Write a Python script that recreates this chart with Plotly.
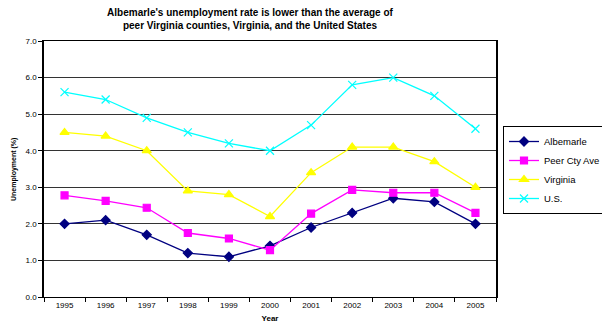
import plotly.graph_objects as go

years = ["1995", "1996", "1997", "1998", "1999", "2000", "2001", "2002", "2003", "2004", "2005"]
albemarle = [2.0, 2.1, 1.7, 1.2, 1.1, 1.4, 1.9, 2.3, 2.7, 2.6, 2.0]
peer_cty_ave = [2.78, 2.63, 2.44, 1.75, 1.6, 1.28, 2.28, 2.93, 2.85, 2.85, 2.3]
virginia = [4.5, 4.4, 4.0, 2.9, 2.8, 2.2, 3.4, 4.1, 4.1, 3.7, 3.0]
us = [5.6, 5.4, 4.9, 4.5, 4.2, 4.0, 4.7, 5.8, 6.0, 5.5, 4.6]
y_ticks = [0, 1, 2, 3, 4, 5, 6, 7]

series = [
    ("Albemarle", albemarle, "#000080", "diamond", 7),
    ("Peer Cty Ave", peer_cty_ave, "#FF00FF", "square", 7),
    ("Virginia", virginia, "#FFFF00", "triangle-up", 8),
    ("U.S.", us, "#00FFFF", "x-thin-open", 8),
]

fig = go.Figure()
for name, vals, color, sym, size in series:
    fig.add_trace(go.Scatter(
        x=years, y=vals, name=name, mode="lines+markers",
        line=dict(color=color, width=1.3),
        marker=dict(symbol=sym, size=size, color=color,
                    line=dict(color=color, width=1.2)),
    ))

font_family = "Liberation Sans, Arial, sans-serif"
fig.update_layout(
    width=602, height=324,
    margin=dict(l=44, r=106, t=41, b=27, autoexpand=False),
    paper_bgcolor="white", plot_bgcolor="white",
    font=dict(family=font_family, size=8, color="black"),
    showlegend=True,
    title=dict(
        text="<b>Albemarle's unemployment rate is lower than the average of<br>peer Virginia counties, Virginia, and the United States</b>",
        x=250 / 602, xanchor="center", y=1 - 16 / 324, yanchor="middle",
        font=dict(size=10, family=font_family, color="black"),
    ),
    legend=dict(
        x=1 + 7 / 452, xanchor="left", y=(297 - 126) / 256, yanchor="top",
        bordercolor="black", borderwidth=1, bgcolor="white",
        font=dict(size=9.5, family=font_family),
        tracegroupgap=0, itemwidth=30,
    ),
    xaxis=dict(
        type="category", range=[-0.5, 10.5], automargin=False,
        tickson="boundaries", ticks="outside", ticklen=4, tickcolor="black",
        showline=True, linecolor="black", linewidth=1, mirror=True,
        showgrid=False,
        title=dict(text="<b>Year</b>", font=dict(size=8), standoff=6),
        tickfont=dict(size=8),
    ),
    yaxis=dict(
        range=[0, 7], tickvals=y_ticks, tickformat=".1f", automargin=False,
        ticks="outside", ticklen=4, tickcolor="black",
        showline=True, linecolor="black", linewidth=1.5, mirror=True,
        showgrid=True, gridcolor="#333333", gridwidth=1,
        zeroline=False,
        tickfont=dict(size=8),
    ),
    annotations=[dict(
        text="<b>Unemployment (%)</b>", textangle=-90,
        xref="paper", yref="paper", x=-30 / 452, y=0.5,
        xanchor="center", yanchor="middle", showarrow=False,
        font=dict(size=7, family=font_family, color="black"),
    )],
)

fig.write_html("out.html", config={"displayModeBar": False},
               post_script="document.body.style.margin='0';")
